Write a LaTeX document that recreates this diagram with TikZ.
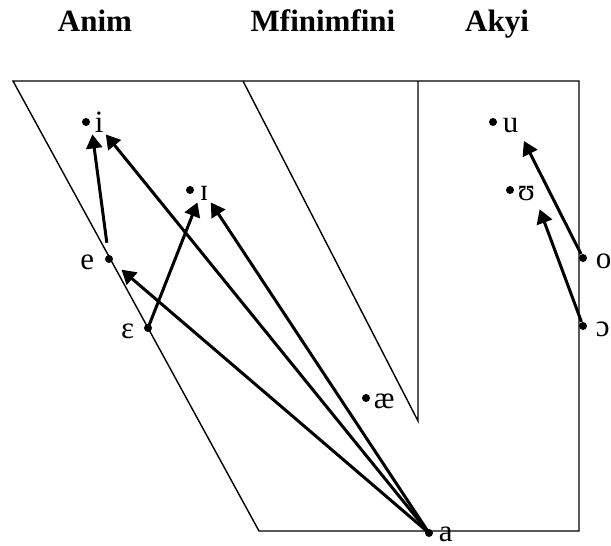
\documentclass[tikz,border=0pt]{standalone}
\usepackage{fontspec}
\setmainfont{Liberation Serif}
\usetikzlibrary{arrows.meta, positioning}

\begin{document}
\begin{tikzpicture}[x=0.5pt, y=-0.5pt,
        dot/.style={circle, fill=black, inner sep=0pt, minimum size=4pt},
        vow/.style={font=\fontsize{15.5}{18}\selectfont, inner sep=1pt},
        rlab/.style={vow, right=#1, anchor=base west, yshift=-5pt},
        llab/.style={vow, left=#1, anchor=base east, yshift=-5pt},
        head/.style={font=\fontsize{15.5}{18}\selectfont\bfseries, anchor=base},
        rim/.style={line width=0.7pt, line join=miter},
        mv/.style={line width=1.5pt, -{Triangle[length=7pt,width=8pt]}}]
  \useasboundingbox (0,0) rectangle (611,546);
  \fill[white] (0,0) rectangle (611,546);
  % headings
  \node[head] (hf) at (95,32)  {Anim};
  \node[head] (hc) at (323,32) {Mfinimfini};
  \node[head] (hb) at (497,32) {Akyi};
  % vowel space
  \draw[rim] (13,81) -- (579,81) -- (579,531) -- (259,531) -- cycle;
  \draw[rim] (243,81) -- (418,421) -- (418,81);
  % vowels
  \foreach \n/\x/\y in {i/86/122, I/190/190, e/109/259, E/148/328, ae/366/398,
                        a/429/533, u/493/122, U/510/190, o/583/258, O/583/326}
    \node[dot] (\n) at (\x,\y) {};
  \node[rlab=1pt of i]    (li)  {i};
  \node[rlab=1.5pt of I]  (lI)  {ɪ};
  \node[llab=4pt of e]    (le)  {e};
  \node[llab=3.5pt of E]  (lE)  {ɛ};
  \node[rlab=0.5pt of ae] (lae) {æ};
  \node[rlab=1.5pt of a, yshift=1pt] (la) {a};
  \node[rlab=1.5pt of u]  (lu)  {u};
  \node[rlab=0.5pt of U]  (lU)  {ʊ};
  \node[rlab=3pt of o]    (lo)  {o};
  \node[rlab=3pt of O]    (lO)  {ɔ};
  % shifts
  \draw[mv, shorten <=6pt] (e) -- (li.south west);
  \draw[mv] (a.center) -- (li.south east);
  \draw[mv] (E.center) -- (lI.south west);
  \draw[mv] (a.center) -- (lI.south east);
  \draw[mv, shorten >=6pt] (a.center) -- (e);
  \draw[mv, shorten >=3.5pt] (o) -- (lu.south east);
  \draw[mv, shorten >=3.5pt] (O) -- (lU.south east);
\end{tikzpicture}
\end{document}
